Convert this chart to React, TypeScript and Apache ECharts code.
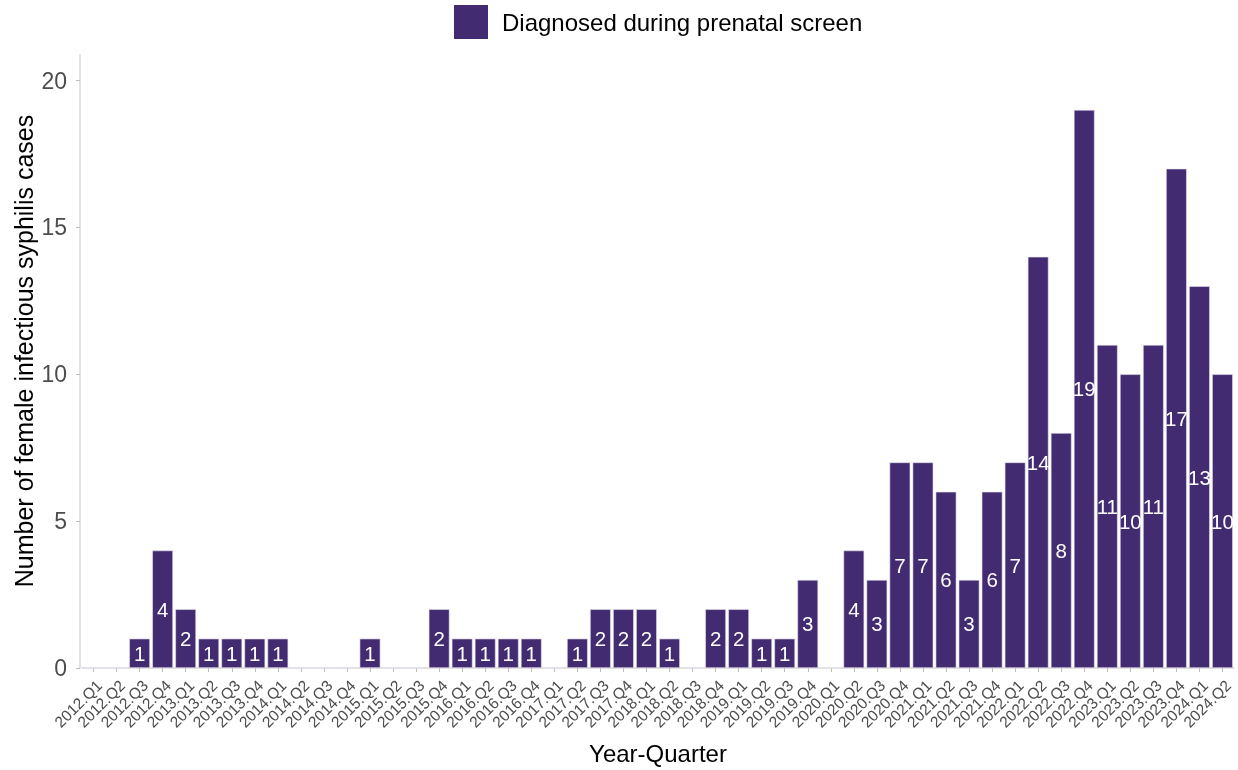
import React, { useEffect, useRef } from "react";
import * as echarts from "echarts";

const categories: string[] = [
  "2012.Q1","2012.Q2","2012.Q3","2012.Q4",
  "2013.Q1","2013.Q2","2013.Q3","2013.Q4",
  "2014.Q1","2014.Q2","2014.Q3","2014.Q4",
  "2015.Q1","2015.Q2","2015.Q3","2015.Q4",
  "2016.Q1","2016.Q2","2016.Q3","2016.Q4",
  "2017.Q1","2017.Q2","2017.Q3","2017.Q4",
  "2018.Q1","2018.Q2","2018.Q3","2018.Q4",
  "2019.Q1","2019.Q2","2019.Q3","2019.Q4",
  "2020.Q1","2020.Q2","2020.Q3","2020.Q4",
  "2021.Q1","2021.Q2","2021.Q3","2021.Q4",
  "2022.Q1","2022.Q2","2022.Q3","2022.Q4",
  "2023.Q1","2023.Q2","2023.Q3","2023.Q4",
  "2024.Q1","2024.Q2",
];

const prenatalCases: number[] = [
  0, 0, 1, 4,
  2, 1, 1, 1,
  1, 0, 0, 0,
  1, 0, 0, 2,
  1, 1, 1, 1,
  0, 1, 2, 2,
  2, 1, 0, 2,
  2, 1, 1, 3,
  0, 4, 3, 7,
  7, 6, 3, 6,
  7, 14, 8, 19,
  11, 10, 11, 17,
  13, 10,
];

const yTicks: number[] = [0, 5, 10, 15, 20];

const seriesName = "Diagnosed during prenatal screen";
const yTitle = "Number of female infectious syphilis cases";
const xTitle = "Year-Quarter";
const FONT = "'Liberation Sans', Arial, sans-serif";
const BAR_COLOR = "#422B70";

export default function App() {
  const ref = useRef<HTMLDivElement>(null);
  useEffect(() => {
    if (!ref.current) return;
    const chart = echarts.init(ref.current, null, { renderer: "svg" });
    chart.setOption({
      animation: false,
      textStyle: { fontFamily: FONT },
      legend: {
        top: 5,
        left: 454,
        padding: 0,
        itemWidth: 34,
        itemHeight: 34,
        itemGap: 10,
        icon: "rect",
        itemStyle: { color: BAR_COLOR, borderWidth: 0 },
        textStyle: { fontSize: 24, color: "#000", fontFamily: FONT, padding: [0, 0, 0, 9] },
        data: [seriesName],
      },
      graphic: [
        {
          type: "text",
          x: 24,
          y: 351,
          rotation: Math.PI / 2,
          style: {
            text: yTitle,
            fontSize: 25,
            fontFamily: FONT,
            fill: "#000",
            align: "center",
            verticalAlign: "middle",
          },
        },
      ],
      grid: { left: 82, right: 4, top: 55, bottom: 98, containLabel: false },
      xAxis: {
        type: "category",
        data: categories,
        name: xTitle,
        nameLocation: "middle",
        nameGap: 73,
        nameTextStyle: { fontSize: 24, color: "#000", fontFamily: FONT },
        axisLine: { show: true, lineStyle: { color: "#d9d9d9", width: 1.5 } },
        axisTick: { show: true, alignWithLabel: true, length: 4, lineStyle: { color: "#bdbdbd" } },
        axisLabel: {
          interval: 0,
          rotate: 45,
          fontSize: 15.5,
          color: "#4d4d4d",
          margin: 9,
          verticalAlign: "top",
          fontFamily: FONT,
        },
      },
      yAxis: {
        type: "value",
        min: 0,
        max: 20.87,
        offset: 2,
        splitLine: { show: false },
        axisLine: { show: true, lineStyle: { color: "#d9d9d9", width: 1.5 } },
        axisTick: { show: true, length: 4, lineStyle: { color: "#bdbdbd" }, customValues: yTicks },
        axisLabel: { fontSize: 23, color: "#4d4d4d", margin: 13, customValues: yTicks, fontFamily: FONT },
      },
      series: [
        {
          name: seriesName,
          type: "bar",
          data: prenatalCases,
          barWidth: "90%",
          itemStyle: { color: BAR_COLOR, borderColor: "#e6e1ee", borderWidth: 0.6 },
          label: {
            show: true,
            position: "inside",
            color: "#ffffff",
            fontSize: 20.5,
            fontFamily: FONT,
            formatter: (p: any) => (p.value > 0 ? String(p.value) : ""),
          },
        },
      ],
    });
    return () => chart.dispose();
  }, []);
  return (
    <div
      ref={ref}
      style={{ position: "fixed", left: 0, top: 0, width: 1238, height: 770 }}
    />
  );
}
